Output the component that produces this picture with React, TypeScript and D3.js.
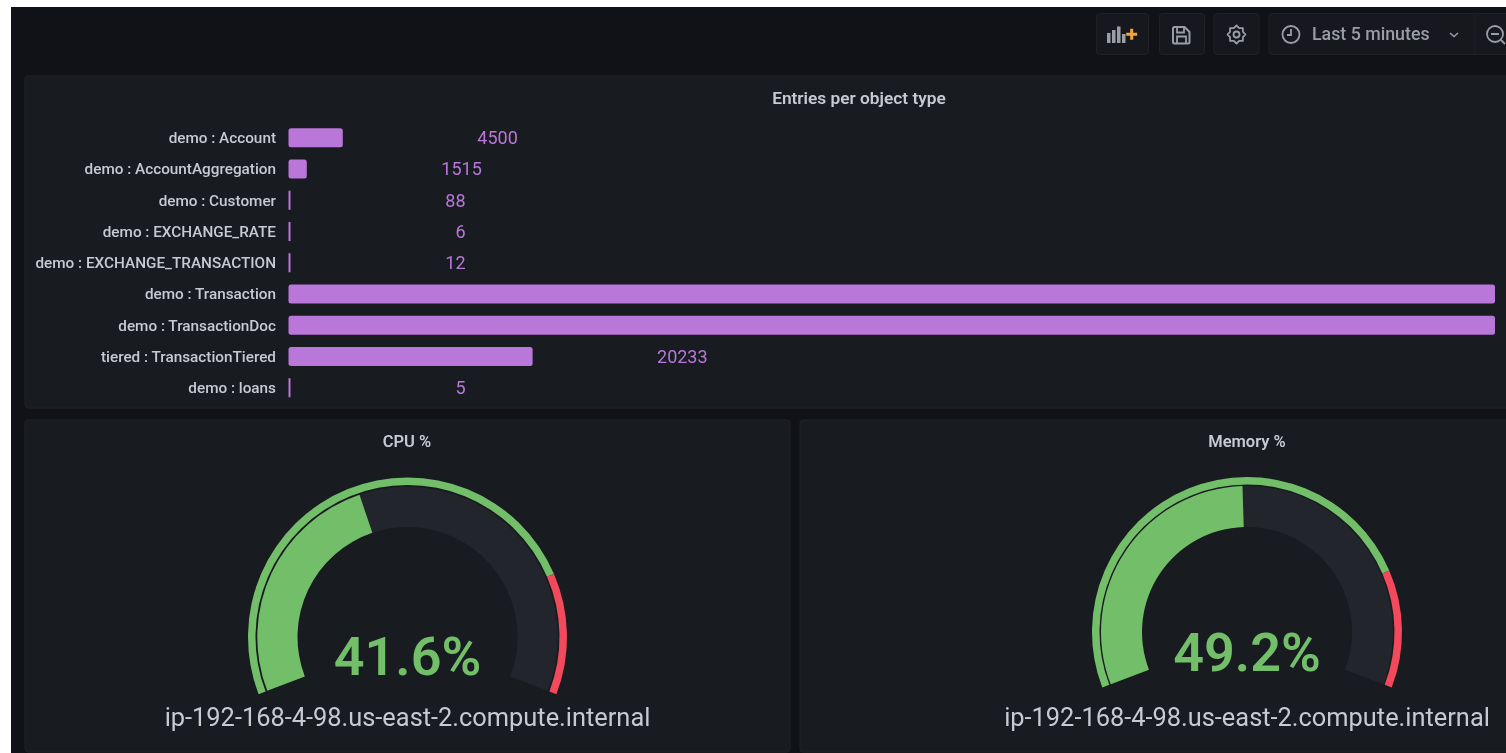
import React from "react";
import * as d3 from "d3";

const objectTypes = [
  "demo : Account",
  "demo : AccountAggregation",
  "demo : Customer",
  "demo : EXCHANGE_RATE",
  "demo : EXCHANGE_TRANSACTION",
  "demo : Transaction",
  "demo : TransactionDoc",
  "tiered : TransactionTiered",
  "demo : loans",
];
// the two long bars have their value label outside the picture, so these are estimated
const objectCounts = [4500, 1515, 88, 6, 12, 100000, 100000, 20233, 5];

const gaugeTitles = ["CPU %", "Memory %"];
const gaugeValues = [41.6, 49.2];
const gaugeHost = "ip-192-168-4-98.us-east-2.compute.internal";
const gaugeThreshold = 80;

const WIDTH = 1506;
const HEIGHT = 753;
const FONT = "Roboto, sans-serif";

const GREEN = "#73BF69";
const RED = "#F2495C";
const PURPLE = "#B877D9";
const TRACK = "#22252B";
const PANEL = "#181B20";
const PAGE = "#111217";
const BORDER = "#202226";
const TEXT = "#C7CAD1";
const MUTED = "#9A9DA6";

const x = d3.scaleLinear().domain([0, 100000]).range([288.5, 1495]);
const y = d3.scaleBand<string>().domain(objectTypes).range([122, 403.5]).paddingInner(0.39).paddingOuter(0.2);

const angle = d3
  .scaleLinear()
  .domain([0, 100])
  .range([(-111 * Math.PI) / 180, (111 * Math.PI) / 180]);

function Panel({ px, py, w, h }: { px: number; py: number; w: number; h: number }) {
  return <rect x={px} y={py} width={w} height={h} rx={3} fill={PANEL} stroke={BORDER} strokeWidth={1} />;
}

function ToolButton({ px, w }: { px: number; w: number }) {
  return <rect x={px} y={13.5} width={w} height={41} rx={3} fill="#16181D" stroke="#1F2126" strokeWidth={1} />;
}

function Gauge({
  cx,
  cy,
  radius,
  barOuter,
  barInner,
  value,
  title,
  titleX,
  valueY,
}: {
  cx: number;
  cy: number;
  radius: number;
  barOuter: number;
  barInner: number;
  value: number;
  title: string;
  titleX: number;
  valueY: number;
}) {
  const band = d3.arc().innerRadius(radius - 7.5).outerRadius(radius);
  const bar = d3.arc().innerRadius(barInner).outerRadius(barOuter);
  const seg = (a: number, b: number, gen: d3.Arc<any, any>) =>
    gen({ startAngle: angle(a), endAngle: angle(b) } as any) || "";
  return (
    <g>
      <text x={titleX} y={447} textAnchor="middle" fontSize={16.5} fontWeight={600} fill={TEXT}>
        {title}
      </text>
      <g transform={`translate(${cx},${cy})`}>
        <path d={seg(0, 100, bar)} fill={TRACK} />
        <path d={seg(0, value, bar)} fill={GREEN} />
        <path d={seg(0, gaugeThreshold, band)} fill={GREEN} />
        <path d={seg(gaugeThreshold, 100, band)} fill={RED} />
      </g>
      <text x={cx} y={valueY} textAnchor="middle" fontSize={54} fontWeight={600} fill={GREEN}>
        {value.toFixed(1)}%
      </text>
      <text x={cx} y={726} textAnchor="middle" fontSize={25.4} fill={TEXT}>
        {gaugeHost}
      </text>
    </g>
  );
}

const gearPath = d3
  .lineRadial<number>()
  .angle((_, i) => (i * Math.PI) / 8)
  .radius((r) => r)
  .curve(d3.curveLinearClosed)(d3.range(16).map((i) => (i % 2 === 0 ? 9 : 7)));

function Toolbar() {
  return (
    <g>
      <ToolButton px={1096.5} w={52} />
      <ToolButton px={1159.5} w={45} />
      <ToolButton px={1214} w={45} />
      <rect x={1269} y={13.5} width={260} height={41} rx={3} fill="#16181D" stroke="#1F2126" />
      <line x1={1475} x2={1475} y1={14} y2={54} stroke="#1F2126" />
      {/* add panel icon */}
      <g fill={MUTED}>
        <rect x={1107} y={33} width={3.5} height={10} />
        <rect x={1112} y={30} width={3.5} height={13} />
        <rect x={1117} y={26.5} width={3.5} height={16.5} />
        <rect x={1122} y={34} width={3.5} height={9} />
      </g>
      <path d="M1130.2 28.800h3v4h4v3h-4v4h-3v-4h-4v-3h4z" fill="#F2A53A" />
      {/* save icon */}
      <path
        d="M1174.500 27h10l5 5v10a1.500 1.500 0 0 1-1.500 1.500h-13.500a1.500 1.500 0 0 1-1.500-1.500v-13.500a1.500 1.500 0 0 1 1.500-1.500z"
        fill="none"
        stroke={MUTED}
        strokeWidth={2}
      />
      <path d="M1177 27.500v5h7v-5M1177 43v-6.500h9v6.500" fill="none" stroke={MUTED} strokeWidth={1.800} />
      {/* settings icon */}
      <circle cx={1236.500} cy={34.500} r={3} fill="none" stroke={MUTED} strokeWidth={1.800} />
      <path transform="translate(1236.500,34.500)" d={gearPath || ""} fill="none" stroke={MUTED} strokeWidth={1.800} strokeLinejoin="round" />
      {/* clock */}
      <circle cx={1291} cy={34.500} r={8.500} fill="none" stroke={MUTED} strokeWidth={1.800} />
      <path d="M1291 29v6h-4" fill="none" stroke={MUTED} strokeWidth={1.800} />
      <text x={1312} y={40} fontSize={17.800} fontWeight={500} fill={MUTED}>
        Last 5 minutes
      </text>
      <path d="M1450 33l4 3.500 4-3.500" fill="none" stroke={MUTED} strokeWidth={1.500} />
      {/* zoom out */}
      <circle cx={1495} cy={34} r={8} fill="none" stroke={MUTED} strokeWidth={1.800} />
      <path d="M1491 34h8M1501 40l4 4" fill="none" stroke={MUTED} strokeWidth={1.800} />
    </g>
  );
}

export default function App() {
  return (
    <svg
      width={WIDTH}
      height={HEIGHT}
      viewBox={`0 0 ${WIDTH} ${HEIGHT}`}
      style={{ position: "absolute", left: 0, top: 0, fontFamily: FONT, display: "block", filter: "blur(0.45px)" }}
    >
      <rect width={WIDTH} height={HEIGHT} fill="#FFFFFF" />
      <rect x={11} y={7} width={WIDTH - 11} height={HEIGHT - 7} fill={PAGE} />
      <Toolbar />

      <Panel px={25} py={76} w={1500} h={332} />
      <Panel px={25} py={420} w={765} h={332} />
      <Panel px={800} py={420} w={730} h={332} />

      <text x={859} y={103.5} textAnchor="middle" fontSize={17.300} fontWeight={600} fill={TEXT}>
        Entries per object type
      </text>

      {objectTypes.map((name, i) => {
        const barW = Math.max(x(objectCounts[i]) - x(0), 2);
        const labelX = x(0) + barW + 175;
        return (
          <g key={name}>
            <text
              x={276}
              y={y(name)! + y.bandwidth() / 2}
              dy="0.35em"
              textAnchor="end"
              fontSize={15.300}
              fontWeight={500}
              fill={TEXT}
            >
              {name}
            </text>
            <rect x={x(0)} y={y(name)} width={barW} height={y.bandwidth()} rx={barW > 4 ? 2.5 : 0} fill={PURPLE} />
            {labelX < WIDTH && (
              <text
                x={labelX}
                y={y(name)! + y.bandwidth() / 2}
                dy="0.35em"
                textAnchor="end"
                fontSize={18}
                fill={PURPLE}
              >
                {objectCounts[i]}
              </text>
            )}
          </g>
        );
      })}

      <Gauge cx={407.5} cy={637} radius={159.5} barOuter={150.2} barInner={110} value={gaugeValues[0]} title={gaugeTitles[0]} titleX={407} valueY={675} />
      <Gauge cx={1247} cy={632} radius={155} barOuter={146} barInner={105} value={gaugeValues[1]} title={gaugeTitles[1]} titleX={1247} valueY={671} />
    </svg>
  );
}
